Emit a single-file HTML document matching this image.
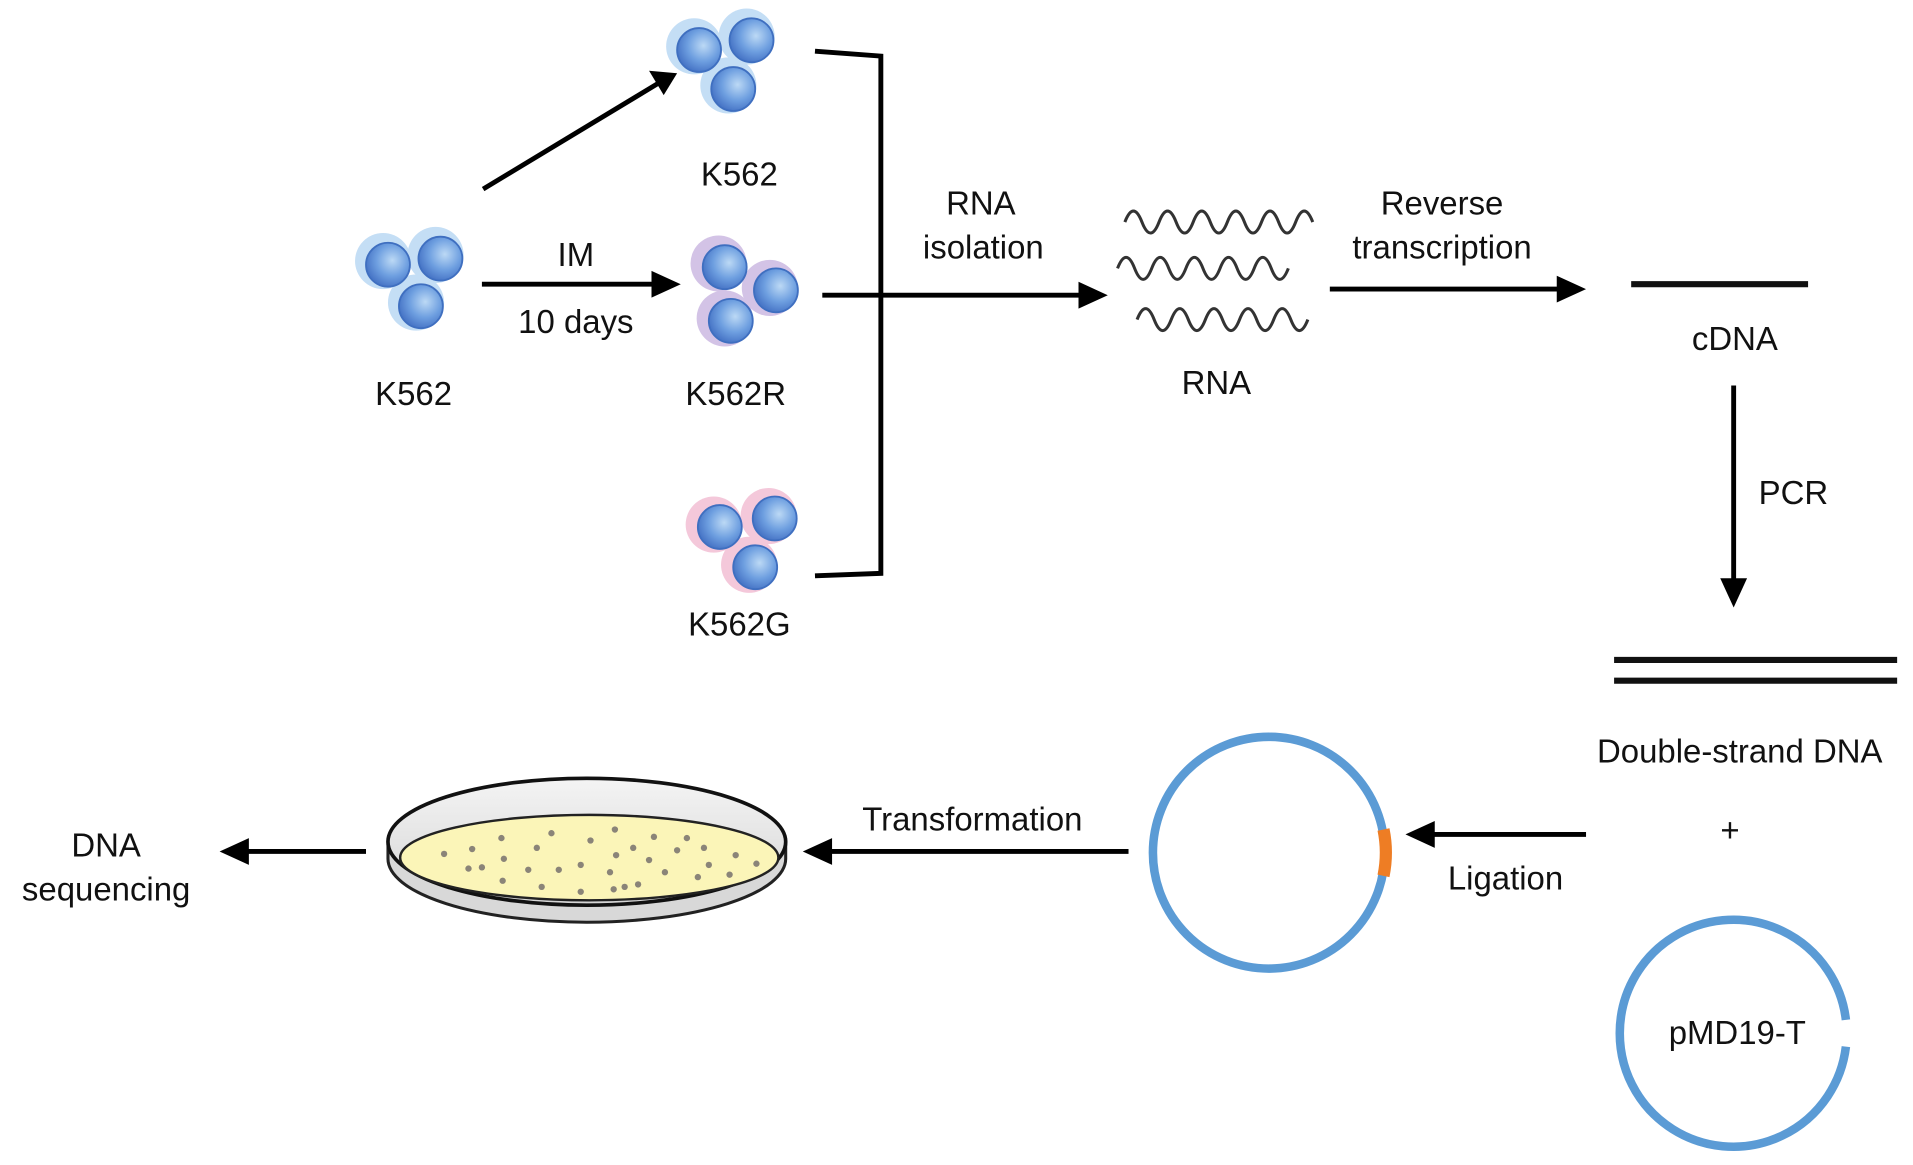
<!DOCTYPE html>
<html><head><meta charset="utf-8"><style>html,body{margin:0;padding:0;background:#fff}svg{display:block}</style></head><body>
<svg width="1913" height="1165" viewBox="0 0 1568 955" preserveAspectRatio="none" xmlns="http://www.w3.org/2000/svg" font-family="Liberation Sans, sans-serif" font-size="27" fill="#111">
<defs>
<radialGradient id="cell" cx="0.6" cy="0.4" r="0.6"><stop offset="0" stop-color="#bcd9f5"/><stop offset="0.6" stop-color="#6e9fe0"/><stop offset="1" stop-color="#4a78c8"/></radialGradient>
<linearGradient id="dish" x1="0" y1="0" x2="0" y2="1"><stop offset="0" stop-color="#f4f4f4"/><stop offset="1" stop-color="#d4d4d4"/></linearGradient>
</defs>
<g fill="#c4def5"><circle cx="314" cy="214" r="23"/><circle cx="357" cy="209" r="23"/><circle cx="341" cy="248" r="23"/></g>
<g fill="url(#cell)" stroke="#3f6fc0" stroke-width="1.5"><circle cx="318" cy="217" r="18"/><circle cx="361" cy="212" r="18"/><circle cx="345" cy="251" r="18"/></g>
<g fill="#c4def5"><circle cx="569" cy="38" r="23"/><circle cx="612" cy="30" r="23"/><circle cx="597" cy="70" r="23"/></g>
<g fill="url(#cell)" stroke="#3f6fc0" stroke-width="1.5"><circle cx="573" cy="41" r="18"/><circle cx="616" cy="33" r="18"/><circle cx="601" cy="73" r="18"/></g>
<g fill="#d3c3e6"><circle cx="589" cy="216" r="23"/><circle cx="631" cy="236" r="23"/><circle cx="594" cy="261" r="23"/></g>
<g fill="url(#cell)" stroke="#3f6fc0" stroke-width="1.5"><circle cx="594" cy="219" r="18"/><circle cx="636" cy="238" r="18"/><circle cx="599" cy="263" r="18"/></g>
<g fill="#f4c8da"><circle cx="585" cy="430" r="23"/><circle cx="630" cy="423" r="23"/><circle cx="614" cy="463" r="23"/></g>
<g fill="url(#cell)" stroke="#3f6fc0" stroke-width="1.5"><circle cx="590" cy="432" r="18"/><circle cx="635" cy="425" r="18"/><circle cx="619" cy="465" r="18"/></g>
<g stroke="#000" stroke-width="4" fill="none">
<line x1="396" y1="155" x2="540" y2="68"/>
<line x1="395" y1="233" x2="542" y2="233"/>
<path d="M668,42 L722,46 L722,470 L668,472"/>
<line x1="674" y1="242" x2="892" y2="242"/>
<line x1="1090" y1="237" x2="1284" y2="237"/>
<line x1="1421" y1="316" x2="1421" y2="480"/>
<line x1="1300" y1="684" x2="1170" y2="684"/>
<line x1="925" y1="698" x2="676" y2="698"/>
<line x1="300" y1="698" x2="198" y2="698"/>
</g>
<g fill="#000">
<path d="M555,60 L532,58 L544,78z"/>
<path d="M558,233 L534,222 L534,244z"/>
<path d="M908,242 L884,231 L884,253z"/>
<path d="M1300,237 L1276,226 L1276,248z"/>
<path d="M1421,498 L1410,474 L1432,474z"/>
<path d="M1152,684 L1176,673 L1176,695z"/>
<path d="M658,698 L682,687 L682,709z"/>
<path d="M180,698 L204,687 L204,709z"/>
</g>
<g stroke="#333" stroke-width="2.5" fill="none">
<path d="M922,182 q7,-18 14,0 t14,0 t14,0 t14,0 t14,0 t14,0 t14,0 t14,0 t14,0 t14,0 t14,0"/>
<path d="M916,220 q7,-18 14,0 t14,0 t14,0 t14,0 t14,0 t14,0 t14,0 t14,0 t14,0 t14,0"/>
<path d="M932,262 q7,-18 14,0 t14,0 t14,0 t14,0 t14,0 t14,0 t14,0 t14,0 t14,0 t14,0"/>
</g>
<line x1="1337" y1="233" x2="1482" y2="233" stroke="#111" stroke-width="5"/>
<line x1="1323" y1="541" x2="1555" y2="541" stroke="#111" stroke-width="5"/>
<line x1="1323" y1="558" x2="1555" y2="558" stroke="#111" stroke-width="5"/>
<path d="M1513,858 A93,93 0 1 1 1513,836" stroke="#5b9bd5" stroke-width="7" fill="none"/>
<circle cx="1040" cy="699" r="95" stroke="#5b9bd5" stroke-width="7" fill="none"/>
<path d="M1134,680 A95,95 0 0 1 1134,718" stroke="#ee7d24" stroke-width="10" fill="none"/>
<path d="M318,690 L318,704 A163,52 0 0 0 644,704 L644,690z" fill="#d8d8d8" stroke="#222" stroke-width="2.5"/>
<ellipse cx="481" cy="690" rx="163" ry="52" fill="url(#dish)" stroke="#111" stroke-width="3"/>
<ellipse cx="483" cy="703" rx="155" ry="35" fill="#fbf5b8" stroke="#222" stroke-width="2"/>
<g fill="#8a8478">
<circle cx="364" cy="700" r="2.6"/><circle cx="387" cy="696" r="2.6"/><circle cx="411" cy="687" r="2.6"/><circle cx="413" cy="704" r="2.6"/><circle cx="384" cy="712" r="2.6"/><circle cx="395" cy="711" r="2.6"/><circle cx="412" cy="722" r="2.6"/><circle cx="433" cy="713" r="2.6"/><circle cx="440" cy="695" r="2.6"/><circle cx="452" cy="683" r="2.6"/><circle cx="458" cy="713" r="2.6"/><circle cx="444" cy="727" r="2.6"/><circle cx="476" cy="709" r="2.6"/><circle cx="484" cy="689" r="2.6"/><circle cx="476" cy="731" r="2.6"/><circle cx="504" cy="680" r="2.6"/><circle cx="505" cy="701" r="2.6"/><circle cx="500" cy="715" r="2.6"/><circle cx="519" cy="695" r="2.6"/><circle cx="532" cy="705" r="2.6"/><circle cx="536" cy="686" r="2.6"/><circle cx="503" cy="729" r="2.6"/><circle cx="512" cy="727" r="2.6"/><circle cx="523" cy="725" r="2.6"/><circle cx="545" cy="715" r="2.6"/><circle cx="555" cy="697" r="2.6"/><circle cx="563" cy="687" r="2.6"/><circle cx="577" cy="695" r="2.6"/><circle cx="581" cy="709" r="2.6"/><circle cx="572" cy="719" r="2.6"/><circle cx="603" cy="701" r="2.6"/><circle cx="598" cy="717" r="2.6"/><circle cx="620" cy="708" r="2.6"/>
</g>
<g text-anchor="middle">
<text x="606" y="152">K562</text>
<text x="472" y="218">IM</text>
<text x="472" y="273">10 days</text>
<text x="339" y="332">K562</text>
<text x="603" y="332">K562R</text>
<text x="606" y="521">K562G</text>
<text x="804" y="176">RNA</text>
<text x="806" y="212">isolation</text>
<text x="997" y="323">RNA</text>
<text x="1182" y="176">Reverse</text>
<text x="1182" y="212">transcription</text>
<text x="1422" y="287">cDNA</text>
<text x="1470" y="413">PCR</text>
<text x="1426" y="625">Double-strand DNA</text>
<text x="1418" y="690">+</text>
<text x="1234" y="729">Ligation</text>
<text x="1424" y="856">pMD19-T</text>
<text x="797" y="681">Transformation</text>
<text x="87" y="702">DNA</text>
<text x="87" y="738">sequencing</text>
</g>
</svg>
</body></html>
